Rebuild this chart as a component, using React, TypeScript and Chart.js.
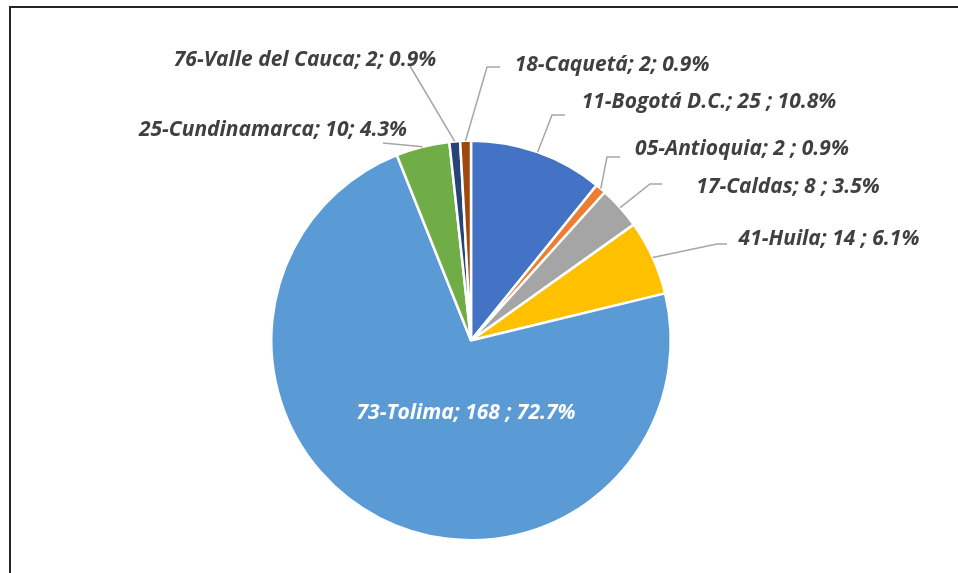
import React, { useEffect, useRef } from "react";
import { Chart, registerables } from "chart.js";

Chart.register(...registerables);

const categories = [
  "11-Bogotá D.C.",
  "05-Antioquia",
  "17-Caldas",
  "41-Huila",
  "73-Tolima",
  "25-Cundinamarca",
  "76-Valle del Cauca",
  "18-Caquetá",
];
const values = [25, 2, 8, 14, 168, 10, 2, 2];
const valueSeparators = [" ; ", " ; ", " ; ", " ; ", " ; ", "; ", "; ", "; "];
const colors = ["#4472C4", "#ED7D31", "#A5A5A5", "#FFC000", "#5B9BD5", "#70AD47", "#264478", "#9E480E"];

// label layout: text centre and leader-line path (elbow points) in px
const labelLayout = [
  { cx: 709, cy: 102, path: [[552, 115], [565, 115]] },
  { cx: 742, cy: 149, path: [[607, 157], [620, 157]] },
  { cx: 788, cy: 187, path: [[650, 184], [662, 184]] },
  { cx: 829, cy: 239, path: [[717, 244], [727, 244]] },
  { cx: 466, cy: 413, path: [] },
  { cx: 273, cy: 130, path: [[383, 143]] },
  { cx: 305, cy: 60, path: [[410, 66]] },
  { cx: 612, cy: 65, path: [[487, 67], [500, 67]] },
];

const total = values.reduce((a, b) => a + b, 0);
const labelText = (i: number) =>
  `${categories[i]}; ${values[i]}${valueSeparators[i]}${((values[i] / total) * 100).toFixed(1)}%`;

const FONT = 'italic bold 21px "Open Sans", sans-serif';

const labelPlugin = {
  id: "pieLabels",
  afterDatasetsDraw(chart: any) {
    const ctx = chart.ctx;
    const meta = chart.getDatasetMeta(0);
    ctx.save();
    meta.data.forEach((arc: any, i: number) => {
      const p = arc.getProps(["x", "y", "startAngle", "endAngle", "outerRadius"], true);
      const mid = (p.startAngle + p.endAngle) / 2;
      const ax = p.x + Math.cos(mid) * p.outerRadius;
      const ay = p.y + Math.sin(mid) * p.outerRadius;
      const lay = labelLayout[i];
      if (lay.path.length) {
        ctx.beginPath();
        ctx.strokeStyle = "#A6A6A6";
        ctx.lineWidth = 1.5;
        ctx.moveTo(ax, ay);
        lay.path.forEach((pt) => ctx.lineTo(pt[0], pt[1]));
        ctx.stroke();
      }
      ctx.font = FONT;
      ctx.textAlign = "center";
      ctx.textBaseline = "middle";
      ctx.fillStyle = i === 4 ? "#FFFFFF" : "#404040";
      ctx.fillText(labelText(i), lay.cx, lay.cy);
    });
    ctx.restore();
  },
};

export default function App() {
  const ref = useRef<HTMLCanvasElement>(null);
  useEffect(() => {
    if (!ref.current) return;
    const chart = new Chart(ref.current, {
      type: "pie",
      data: {
        labels: categories,
        datasets: [
          {
            data: values,
            backgroundColor: colors,
            borderColor: "#FFFFFF",
            borderWidth: 2.5,
            hoverOffset: 0,
          },
        ],
      },
      options: {
        animation: false,
        responsive: false,
        layout: { padding: { top: 139, bottom: 31, left: 270, right: 286 } },
        plugins: { legend: { display: false }, tooltip: { enabled: false } },
      },
      plugins: [labelPlugin],
    });
    return () => chart.destroy();
  }, []);
  return (
    <div style={{ position: "fixed", left: 0, top: 0, width: 958, height: 573, background: "#fff", overflow: "hidden" }}>
      <canvas ref={ref} width={958} height={573} style={{ position: "absolute", left: 0, top: 0 }} />
      <div
        style={{
          position: "absolute",
          left: 9,
          top: 6,
          width: 960,
          height: 600,
          borderTop: "2px solid #262626",
          borderLeft: "2px solid #262626",
          boxSizing: "border-box",
        }}
      />
    </div>
  );
}
